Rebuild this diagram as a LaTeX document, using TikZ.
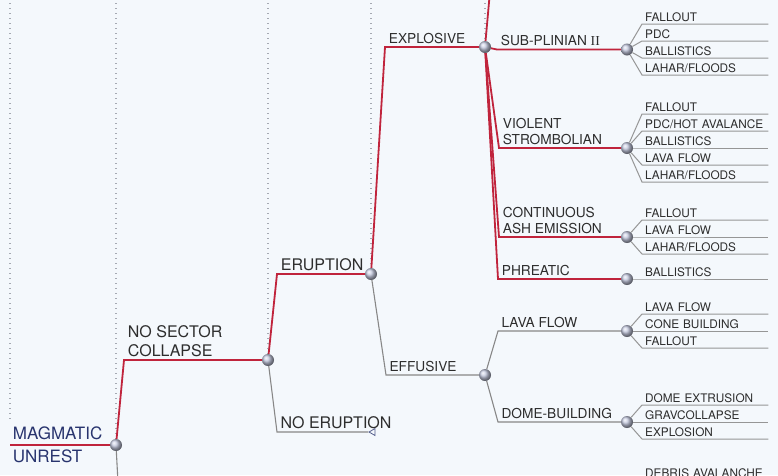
\documentclass[tikz,border=0pt]{standalone}
\usepackage{fontspec}
\setmainfont{TeX Gyre Heros}
\newfontfamily\romfont{Liberation Serif}
\usetikzlibrary{shapes.geometric}

\definecolor{paper}{RGB}{244,248,252}
\definecolor{hazred}{RGB}{192,36,60}
\definecolor{branch}{RGB}{135,135,135}
\definecolor{leafgray}{RGB}{150,150,150}
\definecolor{guidegray}{RGB}{165,169,178}
\definecolor{ink}{RGB}{45,45,45}
\definecolor{navy}{RGB}{40,52,110}
\definecolor{knob}{RGB}{198,203,225}

\newcommand\Leaves[3]{%
	\foreach \t [count=\i] in {#3} {
		\node[leaf] (#1-\i) at (642,{#2+17*(\i-1)}) {\t};
		\draw[leafline] (#1) -- (#1-\i.south west) -- (#1-\i.south east);
	}
}

\begin{document}
\begin{tikzpicture}[x=1pt,y=-1pt,
		sphere/.style={circle,shading=ball,ball color=knob,minimum size=12pt,inner sep=0pt},
		hot/.style={draw=hazred,line width=1.8pt},
		cold/.style={draw=branch,line width=1.1pt},
		leafline/.style={draw=leafgray,line width=1pt},
		guide/.style={draw=guidegray,line width=1.2pt,dash pattern=on 1.2pt off 3.8pt},
		lab/.style={anchor=south west,inner xsep=3pt,inner ysep=2.5pt,text=ink,align=left,font=\fontsize{16}{18.5}\selectfont},
		sub/.style={lab,font=\fontsize{13.7}{16}\selectfont},
		mag/.style={inner xsep=2pt,inner ysep=4pt,text=navy,font=\fontsize{17}{19}\selectfont},
		leaf/.style={anchor=south west,inner xsep=3pt,inner ysep=2pt,text depth=0pt,text width=120pt,align=left,text=ink,font=\fontsize{11.8}{13}\selectfont},
		stopmark/.style={regular polygon,regular polygon sides=3,shape border rotate=90,draw=navy!80,fill=paper,line width=0.8pt,minimum size=8pt,inner sep=0pt}]
	\useasboundingbox (0,0) rectangle (778,475);
	\clip (0,0) rectangle (778,475);
	\fill[paper] (0,0) rectangle (778,475);

	\coordinate (top) at (0,3);
	\coordinate (origin) at (10,445);
	\coordinate (up) at (491,-20);
	\coordinate (down) at (120,520);
	\coordinate (sectorcollapse) at (627,520);

	\node[sphere] (unrest) at (116,445) {};
	\node[sphere] (nocollapse) at (268,360) {};
	\node[sphere] (eruption) at (371,274) {};
	\node[sphere] (explosive) at (485,47) {};
	\node[sphere] (effusive) at (485,375) {};
	\node[sphere] (subplinian) at (627,49.5) {};
	\node[sphere] (strombolian) at (627,148) {};
	\node[sphere] (ash) at (627,237) {};
	\node[sphere] (phreatic) at (627,279) {};
	\node[sphere] (lavaflow) at (627,331) {};
	\node[sphere] (dome) at (627,422) {};
	\node[stopmark] (noeruption) at (373,432) {};

	\draw[guide] (origin |- top) -- ([yshift=25pt]origin);
	\draw[guide] (unrest |- top) -- (unrest);
	\draw[guide] (nocollapse |- top) -- (nocollapse);
	\draw[guide] (eruption |- top) -- (eruption);
	\draw[guide] (explosive |- top) -- (explosive);

	\draw[hot] (origin) -- node[mag,pos=0,anchor=south west] (l-mag) {MAGMATIC}
		node[mag,pos=0,anchor=north west] (l-unr) {UNREST} (unrest);
	\draw[cold] (unrest) -- (down);
	\draw[hot] (unrest) -- ([xshift=8pt]unrest |- nocollapse) -- node[lab,pos=0] (l-nsc) {NO SECTOR\\COLLAPSE} (nocollapse);
	\draw[hot] (nocollapse) -- ([xshift=9pt]nocollapse |- eruption) -- node[lab,pos=0] (l-er) {ERUPTION} (eruption);
	\draw[cold] (nocollapse) -- ([xshift=9pt]nocollapse |- noeruption) -- node[lab,pos=0] (l-ne) {NO ERUPTION} (noeruption);
	\draw[hot] (eruption) -- ([xshift=14pt]eruption |- explosive) -- node[sub,pos=0] (l-ex) {EXPLOSIVE} (explosive);
	\draw[cold] (eruption) -- ([xshift=15pt]eruption |- effusive) -- node[sub,pos=0] (l-ef) {EFFUSIVE} (effusive);

	\draw[hot] (explosive) -- (up);
	\draw[hot] (explosive) -- ([xshift=12pt]explosive |- subplinian) -- node[sub,pos=0] (l-sp) {SUB-PLINIAN {\romfont II}} (subplinian);
	\draw[hot] (explosive) -- ([xshift=14pt]explosive |- strombolian) -- node[sub,pos=0] (l-vs) {VIOLENT\\STROMBOLIAN} (strombolian);
	\draw[hot] (explosive) -- ([xshift=14pt]explosive |- ash) -- node[sub,pos=0] (l-ce) {CONTINUOUS\\ASH EMISSION} (ash);
	\draw[hot] (explosive) -- ([xshift=13pt]explosive |- phreatic) -- node[sub,pos=0] (l-ph) {PHREATIC} (phreatic);
	\draw[cold] (effusive) -- ([xshift=13pt]effusive |- lavaflow) -- node[sub,pos=0] (l-lf) {LAVA FLOW} (lavaflow);
	\draw[cold] (effusive) -- ([xshift=13pt]effusive |- dome) -- node[sub,pos=0] (l-db) {DOME-BUILDING} (dome);

	\Leaves{subplinian}{24}{FALLOUT,PDC,BALLISTICS,LAHAR/FLOODS}
	\Leaves{strombolian}{114}{FALLOUT,PDC/HOT AVALANCE,BALLISTICS,LAVA FLOW,LAHAR/FLOODS}
	\Leaves{ash}{220}{FALLOUT,LAVA FLOW,LAHAR/FLOODS}
	\Leaves{phreatic}{279}{BALLISTICS}
	\Leaves{lavaflow}{314}{LAVA FLOW,CONE BUILDING,FALLOUT}
	\Leaves{dome}{405}{DOME EXTRUSION,GRAVCOLLAPSE,EXPLOSION}
	\Leaves{sectorcollapse}{480}{DEBRIS AVALANCHE}
\end{tikzpicture}
\end{document}
